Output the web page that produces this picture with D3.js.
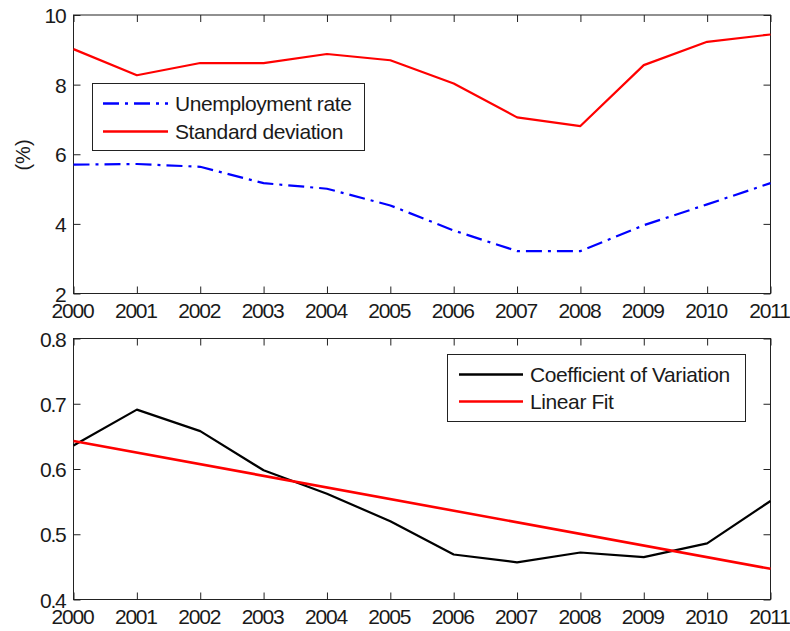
<!DOCTYPE html>
<html>
<head>
<meta charset="utf-8">
<script src="https://cdn.jsdelivr.net/npm/d3@7"></script>
<style>
  html, body { margin: 0; padding: 0; background: #fff; }
  svg text { font-family: "Liberation Sans", Arial, sans-serif; fill: #1a1a1a; }
</style>
</head>
<body>
<svg id="chart" width="790" height="631"></svg>
<script>
// ---- data ----
const years = [2000, 2001, 2002, 2003, 2004, 2005, 2006, 2007, 2008, 2009, 2010, 2011];
const unemploymentRate = [5.70, 5.72, 5.64, 5.17, 5.01, 4.53, 3.81, 3.22, 3.22, 3.96, 4.56, 5.17];
const standardDeviation = [9.02, 8.27, 8.62, 8.62, 8.88, 8.70, 8.03, 7.06, 6.81, 8.56, 9.23, 9.44];
const coefficientOfVariation = [0.636, 0.691, 0.658, 0.598, 0.562, 0.520, 0.469, 0.457, 0.472, 0.465, 0.486, 0.551];
const linearFitYears = [2000, 2011];
const linearFit = [0.643, 0.447];
const topTicks = [2, 4, 6, 8, 10];
const bottomTicks = [0.4, 0.5, 0.6, 0.7, 0.8];

const svg = d3.select("#chart");
const left = 73.5, right = 770.5;
const FS = 21;

const x = d3.scaleLinear().domain([2000, 2011]).range([left, right]);

function panel(top, bottom, yDomain, yTicks, yFmt) {
  const y = d3.scaleLinear().domain(yDomain).range([bottom, top]);
  const g = svg.append("g");
  const tk = 7;
  g.append("rect").attr("x", left).attr("y", top).attr("width", right - left).attr("height", bottom - top)
    .attr("fill", "none").attr("stroke", "#222").attr("stroke-width", 1);
  const xb = g.append("g").attr("transform", `translate(0,${bottom})`)
    .call(d3.axisBottom(x).tickValues(years).tickFormat(d3.format("d")).tickSizeInner(-tk).tickSizeOuter(0).tickPadding(10));
  const xt = g.append("g").attr("transform", `translate(0,${top})`)
    .call(d3.axisTop(x).tickValues(years).tickFormat("").tickSizeInner(-tk).tickSizeOuter(0));
  const yl = g.append("g").attr("transform", `translate(${left},0)`)
    .call(d3.axisLeft(y).tickValues(yTicks).tickFormat(yFmt).tickSizeInner(-tk).tickSizeOuter(0).tickPadding(8));
  const yr = g.append("g").attr("transform", `translate(${right},0)`)
    .call(d3.axisRight(y).tickValues(yTicks).tickFormat("").tickSizeInner(-tk).tickSizeOuter(0));
  [xb, xt, yl, yr].forEach(a => {
    a.select(".domain").remove();
    a.selectAll("line").attr("stroke", "#222");
    a.selectAll("text").attr("font-size", FS).attr("letter-spacing", "-1.2px")
      .attr("font-family", "Liberation Sans, Arial, sans-serif").attr("fill", "#1a1a1a");
  });
  xb.selectAll("text").attr("dy", "0.68em").attr("dx", -1.5);
  yl.selectAll("text").attr("dy", "0.36em");
  return { g, y };
}

// ---- top panel ----
const P1 = panel(15, 293.5, [2, 10], topTicks, d3.format("d"));
const line1 = d3.line().x((d, i) => x(years[i])).y(d => P1.y(d));
P1.g.append("path").datum(standardDeviation).attr("d", line1)
  .attr("fill", "none").attr("stroke", "#ff0000").attr("stroke-width", 2.2).attr("stroke-linejoin", "round");
P1.g.append("path").datum(unemploymentRate).attr("d", line1)
  .attr("fill", "none").attr("stroke", "#0000ff").attr("stroke-width", 2.2)
  .attr("stroke-dasharray", "16,6,3,6");

svg.append("text").attr("transform", "translate(30,155) rotate(-90)")
  .attr("text-anchor", "middle").attr("font-size", 20).text("(%)");

// top legend
const L1 = svg.append("g");
L1.append("rect").attr("x", 92.5).attr("y", 83.5).attr("width", 272).attr("height", 67)
  .attr("fill", "#fff").attr("stroke", "#222").attr("stroke-width", 1);
const leg1 = [
  { label: "Unemployment rate", color: "#0000ff", dash: "16,6,3,6", y: 103.5 },
  { label: "Standard deviation", color: "#ff0000", dash: null, y: 131.5 }
];
leg1.forEach(d => {
  L1.append("line").attr("x1", 103).attr("x2", 168).attr("y1", d.y).attr("y2", d.y)
    .attr("stroke", d.color).attr("stroke-width", 2.4).attr("stroke-dasharray", d.dash);
  L1.append("text").attr("x", 175).attr("y", d.y).attr("dy", "0.36em")
    .attr("font-size", FS).attr("letter-spacing", "-0.4px").text(d.label);
});

// ---- bottom panel ----
const P2 = panel(338.5, 599.5, [0.4, 0.8], bottomTicks, d3.format(".1f"));
const line2 = d3.line().x((d, i) => x(years[i])).y(d => P2.y(d));
P2.g.append("path").datum(coefficientOfVariation).attr("d", line2)
  .attr("fill", "none").attr("stroke", "#000").attr("stroke-width", 2.2).attr("stroke-linejoin", "round");
const lineFit = d3.line().x((d, i) => x(linearFitYears[i])).y(d => P2.y(d));
P2.g.append("path").datum(linearFit).attr("d", lineFit)
  .attr("fill", "none").attr("stroke", "#ff0000").attr("stroke-width", 2.6);

// bottom legend
const L2 = svg.append("g");
L2.append("rect").attr("x", 447.5).attr("y", 354.5).attr("width", 298).attr("height", 67)
  .attr("fill", "#fff").attr("stroke", "#222").attr("stroke-width", 1);
const leg2 = [
  { label: "Coefficient of Variation", color: "#000", y: 374.5 },
  { label: "Linear Fit", color: "#ff0000", y: 401.5 }
];
leg2.forEach(d => {
  L2.append("line").attr("x1", 459).attr("x2", 523).attr("y1", d.y).attr("y2", d.y)
    .attr("stroke", d.color).attr("stroke-width", 2.4);
  L2.append("text").attr("x", 530).attr("y", d.y).attr("dy", "0.36em")
    .attr("font-size", FS).attr("letter-spacing", "-0.4px").text(d.label);
});
</script>
</body>
</html>
